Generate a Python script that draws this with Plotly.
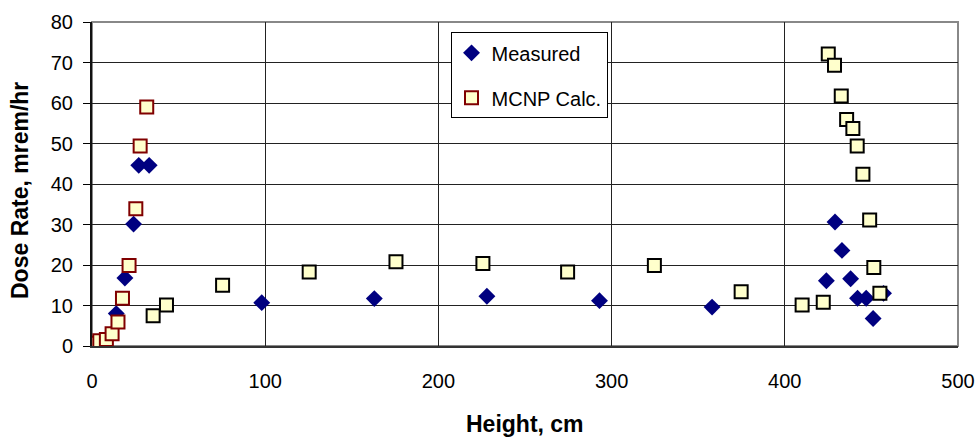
import plotly.graph_objects as go

# Measured (diamonds)
meas_x = [14, 19, 24, 27, 33, 98, 163, 228, 293, 358, 424, 429, 433, 438, 442, 447, 451, 457]
meas_y = [8, 16.8, 30.1, 44.6, 44.6, 10.7, 11.7, 12.3, 11.2, 9.6, 16.1, 30.6, 23.6, 16.6, 11.8, 11.8, 6.8, 13.0]

# MCNP Calc. (red-bordered squares, near source)
calc_x = [0.6, 4.5, 8.3, 11.6, 15.0, 17.6, 21.4, 25.3, 27.8, 31.6]
calc_y = [0.7, 1.3, 1.6, 3.0, 5.9, 11.8, 19.9, 33.9, 49.4, 59.0]

# MCNP Calc. (black-bordered squares)
calc2_x = [35.3, 43, 75.4, 125.4, 175.5, 225.7, 274.6, 324.7, 374.8, 410, 422.2,
           425.1, 428.7, 432.6, 435.7, 439.3, 441.8, 445.1, 449, 451.4, 454.9]
calc2_y = [7.5, 10.1, 15.0, 18.3, 20.8, 20.4, 18.3, 19.9, 13.4, 10.1, 10.8,
           72.1, 69.3, 61.7, 55.9, 53.7, 49.4, 42.4, 31.1, 19.4, 13.0]

x_ticks = [0, 100, 200, 300, 400, 500]
y_ticks = [0, 10, 20, 30, 40, 50, 60, 70, 80]

FONT = "Liberation Sans, Arial, sans-serif"

W, H = 979, 437
ML, MR, MT, MB = 92, 21, 22, 91

fig = go.Figure()
fig.add_trace(go.Scatter(
    x=meas_x, y=meas_y, mode="markers", name="Measured",
    legendgroup="a",
    marker=dict(symbol="diamond", size=13, color="#000080", line=dict(width=0))))
fig.add_trace(go.Scatter(
    x=calc2_x, y=calc2_y, mode="markers", name="MCNP Calc.", showlegend=False,
    marker=dict(symbol="square", size=13, color="#FFFFCC", line=dict(width=2, color="#000000"))))
fig.add_trace(go.Scatter(
    x=calc_x, y=calc_y, mode="markers", name="MCNP Calc.",
    legendgroup="b",
    marker=dict(symbol="square", size=13, color="#FFFFCC", line=dict(width=2, color="#800000"))))

ph = H - MT - MB
pw = W - ML - MR

fig.update_layout(
    width=W, height=H,
    margin=dict(l=ML, r=MR, t=MT, b=MB, autoexpand=False),
    paper_bgcolor="white", plot_bgcolor="white",
    font=dict(family=FONT, size=20, color="black"),
    showlegend=True,
    legend=dict(
        x=0.414, y=0.968, xanchor="left", yanchor="top",
        bgcolor="white", bordercolor="black", borderwidth=1,
        font=dict(family=FONT, size=20, color="black"),
        traceorder="grouped", tracegroupgap=16,
        itemwidth=30,
    ),
    shapes=[dict(type="rect", xref="x domain", yref="y domain", x0=0, x1=1, y0=0, y1=1,
                 line=dict(color="#888888", width=2), layer="below")],
    annotations=[
        dict(text="<b>Height, cm</b>", xref="paper", yref="paper",
             x=(525 - ML) / pw, y=-(424 - (MT + ph)) / ph,
             xanchor="center", yanchor="middle", showarrow=False,
             font=dict(family=FONT, size=23, color="black")),
        dict(text="<b>Dose Rate, mrem/hr</b>", xref="paper", yref="paper",
             x=-(ML - 20) / pw, y=(MT + ph - 191) / ph, textangle=-90,
             xanchor="center", yanchor="middle", showarrow=False,
             font=dict(family=FONT, size=23, color="black")),
    ],
)
fig.update_xaxes(
    range=[0, 500], tickvals=x_ticks, ticktext=[str(v) for v in x_ticks],
    showgrid=True, gridcolor="#222222", gridwidth=1,
    showline=True, linecolor="#333333", linewidth=2,
    ticks="", ticklabelstandoff=16, zeroline=False, automargin=False,
    tickfont=dict(size=20),
)
fig.update_yaxes(
    range=[0, 80], tickvals=y_ticks, ticktext=[str(v) for v in y_ticks],
    showgrid=True, gridcolor="#222222", gridwidth=1,
    showline=True, linecolor="#111111", linewidth=2,
    ticks="outside", ticklen=7, tickcolor="black", ticklabelstandoff=6,
    zeroline=False, automargin=False,
    tickfont=dict(size=20),
)

fig.write_html("out.html")
